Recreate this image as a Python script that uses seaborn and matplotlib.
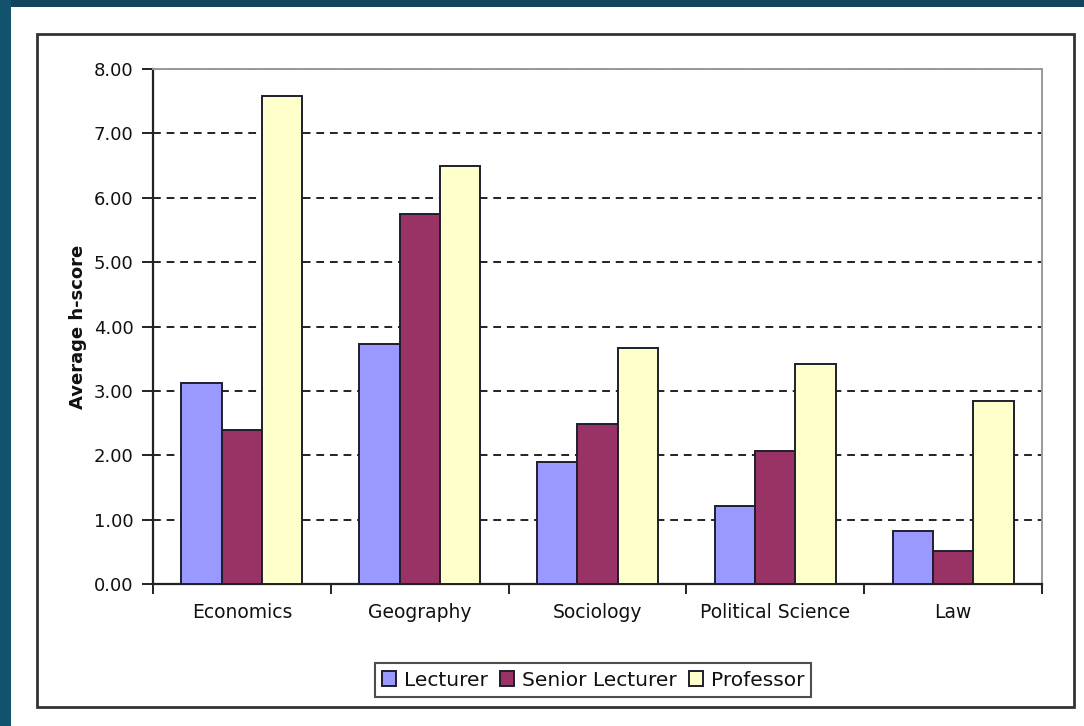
import matplotlib
matplotlib.use("Agg")
import matplotlib.pyplot as plt
from matplotlib.patches import Rectangle
from matplotlib.ticker import FormatStrFormatter, FixedLocator
import seaborn as sns
import pandas as pd

# Average h-score by discipline and academic rank
disciplines = ["Economics", "Geography", "Sociology", "Political Science", "Law"]
ranks = ["Lecturer", "Senior Lecturer", "Professor"]
lecturer = [3.12, 3.73, 1.89, 1.21, 0.83]
senior_lecturer = [2.40, 5.75, 2.48, 2.07, 0.51]
professor = [7.58, 6.49, 3.67, 3.41, 2.84]
yticks = [0, 1, 2, 3, 4, 5, 6, 7, 8]

palette = {"Lecturer": "#9999FF", "Senior Lecturer": "#993366", "Professor": "#FFFFCC"}

df = pd.DataFrame({
    "Discipline": disciplines * 3,
    "Rank": [ranks[0]] * 5 + [ranks[1]] * 5 + [ranks[2]] * 5,
    "Score": lecturer + senior_lecturer + professor,
})

sns.set_theme(style="white")
plt.rcParams["font.family"] = ["DejaVu Sans"]

W, H = 1084, 726
fig = plt.figure(figsize=(W / 100, H / 100), dpi=100, facecolor="white")

# Slide frame: dark band on top and left, thin border round the chart
fig.patches.append(Rectangle((0, 1 - 7 / H), 1, 7 / H, transform=fig.transFigure,
                             facecolor="#11455e", edgecolor="none", zorder=0))
fig.patches.append(Rectangle((0, 0), 11 / W, 1, transform=fig.transFigure,
                             facecolor="#13526d", edgecolor="none", zorder=0))
fig.patches.append(Rectangle((37 / W, (H - 707) / H), (1074 - 37) / W, (707 - 34) / H,
                             transform=fig.transFigure, facecolor="none",
                             edgecolor="#333333", linewidth=2.0, zorder=1))

ax = fig.add_axes([153 / W, (H - 584) / H, 889 / W, 515 / H])
ax.set_facecolor("white")

sns.barplot(data=df, x="Discipline", y="Score", hue="Rank", order=disciplines,
            hue_order=ranks, palette=palette, width=0.68, gap=0,
            edgecolor="#1e1e2e", linewidth=1.4, saturation=1, ax=ax, zorder=3)

ax.set_ylim(0, 8)
ax.set_xlim(-0.5, len(disciplines) - 0.5)
ax.set_yticks(yticks)
ax.yaxis.set_major_formatter(FormatStrFormatter("%.2f"))
ax.yaxis.grid(True, color="#222222", linestyle=(0, (4, 3)), linewidth=1.4, zorder=0)
ax.xaxis.grid(False)
ax.set_axisbelow(True)

ax.set_xticks(range(len(disciplines)))
ax.set_xticklabels(disciplines)
ax.xaxis.set_minor_locator(FixedLocator([i - 0.5 for i in range(len(disciplines) + 1)]))
ax.tick_params(axis="x", which="major", length=0, pad=14, labelsize=13.5, labelcolor="#111111")
ax.tick_params(axis="x", which="minor", bottom=True, length=7, width=1.4, color="#222222")
ax.tick_params(axis="y", left=True, length=8, width=1.4, color="#222222", pad=6,
               labelsize=13, labelcolor="#111111")

for side in ["left", "bottom"]:
    ax.spines[side].set_color("#222222")
    ax.spines[side].set_linewidth(1.6)
for side in ["top", "right"]:
    ax.spines[side].set_visible(True)
    ax.spines[side].set_color("#999999")
    ax.spines[side].set_linewidth(1.4)

ax.set_xlabel("")
ax.set_ylabel("Average h-score", fontsize=13, fontweight="bold", color="#111111", labelpad=5)

handles, labels = ax.get_legend_handles_labels()
ax.get_legend().remove()
leg = fig.legend(handles, labels, loc="center", bbox_to_anchor=(593 / W, (H - 680) / H),
                 ncol=3, frameon=True, fancybox=False, edgecolor="#222222",
                 fontsize=14.5, handlelength=0.7, handleheight=0.7, handletextpad=0.4,
                 columnspacing=0.6, borderpad=0.35, borderaxespad=0)
leg.get_frame().set_linewidth(1.5)
for t in leg.get_texts():
    t.set_color("#111111")

fig.savefig("out.png", dpi=100, facecolor=fig.get_facecolor())
